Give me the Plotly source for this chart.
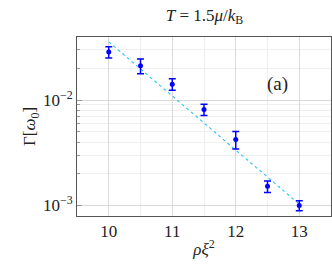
import plotly.graph_objects as go

rho_xi2 = [10, 10.5, 11, 11.5, 12, 12.5, 13]
gamma = [0.0286, 0.0212, 0.0142, 0.00815, 0.00423, 0.00152, 0.00100]
gamma_err = [0.0035, 0.0034, 0.0018, 0.00098, 0.00080, 0.00019, 0.00011]
fit_x = [10, 13]
fit_y = [0.0358, 0.00103]

font_family = "Liberation Serif"
grid_major = "#d9d9d9"
grid_minor = "#efefef"

fig = go.Figure()
fig.add_trace(go.Scatter(
    x=fit_x, y=fit_y, mode="lines",
    line=dict(color="#2cc5f0", width=1.1, dash="dot"),
    showlegend=False, hoverinfo="skip"))
fig.add_trace(go.Scatter(
    x=rho_xi2, y=gamma, mode="markers",
    marker=dict(color="#0000ff", size=5),
    error_y=dict(type="data", array=gamma_err, color="#0000ff", thickness=1.5, width=3.5),
    showlegend=False))

fig.update_layout(
    width=332, height=268,
    margin=dict(l=77, r=1, t=37, b=52),
    plot_bgcolor="white", paper_bgcolor="white",
    font=dict(family=font_family, size=17, color="#222222"),
    title=dict(text="<i>T</i> = 1.5<i>μ</i>/<i>k</i><sub>B</sub>",
               x=0.616, xanchor="center", y=0.945, yanchor="middle",
               font=dict(size=17, family=font_family)),
    xaxis=dict(range=[9.5, 13.5], tickvals=[10, 11, 12, 13],
               ticktext=["10", "11", "12", "13"], automargin=False,
               showgrid=True, gridcolor=grid_major, gridwidth=1,
               minor=dict(tickvals=[10.5, 11.5, 12.5], showgrid=True, gridcolor=grid_minor),
               showline=True, linecolor="#555555", linewidth=1, mirror=True,
               ticks="", zeroline=False, tickfont=dict(size=17, family=font_family),
               title=dict(text="<i>ρξ</i><sup>2</sup>", standoff=2, font=dict(size=17, family=font_family))),
    yaxis=dict(type="log", range=[-3.1, -1.4], automargin=False,
               tickvals=[0.001, 0.01], ticktext=["10<sup>−3</sup>", "10<sup>−2</sup>"],
               showgrid=True, gridcolor=grid_major, gridwidth=1,
               minor=dict(tickvals=[0.002, 0.003, 0.004, 0.005, 0.006, 0.007, 0.008, 0.009, 0.02, 0.03],
                          showgrid=True, gridcolor=grid_minor,
                          ticks="inside", ticklen=3, tickcolor="#999999"),
               showline=True, linecolor="#555555", linewidth=1, mirror=True,
               ticks="inside", ticklen=5, tickcolor="#999999", zeroline=False,
               tickfont=dict(size=17, family=font_family),
               title=dict(text="Γ[<i>ω</i><sub>0</sub>]", standoff=2, font=dict(size=17, family=font_family))),
)
fig.add_annotation(text="(a)", x=0.84, y=0.81, xref="paper", yref="paper",
                   showarrow=False, font=dict(size=19, family=font_family))

fig.write_html("out.html", config={"displayModeBar": False},
               post_script="document.body.style.margin='0';document.body.style.overflow='hidden';")
